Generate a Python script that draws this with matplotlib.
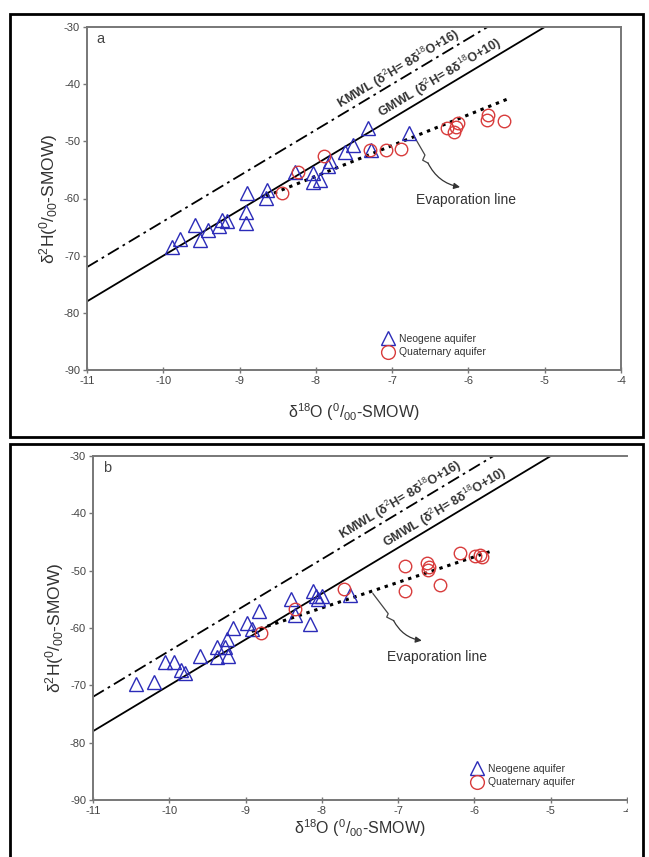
import numpy as np
import matplotlib
matplotlib.use("Agg")
import matplotlib.pyplot as plt
from matplotlib.patches import Rectangle

plt.rcParams['font.family'] = ['Liberation Sans', 'DejaVu Sans']
plt.rcParams['mathtext.fontset'] = 'custom'
plt.rcParams['mathtext.rm'] = 'Liberation Sans'
plt.rcParams['mathtext.it'] = 'Liberation Sans'
plt.rcParams['mathtext.bf'] = 'Liberation Sans:bold'
plt.rcParams['axes.unicode_minus'] = False

# ---- panel a data ----
neo_a_x = [-9.88, -9.78, -9.59, -9.52, -9.41, -9.27, -9.23, -9.17, -8.90, -8.92, -8.92, -8.64,
           -8.65, -8.27, -8.04, -7.95, -8.04, -7.84, -7.82, -7.62, -7.51, -7.31, -7.28, -6.78]
neo_a_y = [-68.5, -67.1, -64.6, -67.2, -65.5, -64.8, -63.7, -63.9, -59.0, -62.3, -64.3, -58.5,
           -59.9, -55.3, -57.2, -56.7, -55.6, -54.4, -53.4, -51.8, -50.6, -47.7, -51.6, -48.6]
qua_a_x = [-8.44, -8.23, -7.89, -7.29, -7.08, -6.89, -6.28, -6.19, -6.16, -6.14, -5.76, -5.74, -5.54]
qua_a_y = [-59.0, -55.3, -52.6, -51.6, -51.5, -51.4, -47.7, -48.4, -47.5, -46.8, -46.2, -45.4, -46.4]
evap_a_x = [-8.65, -5.45]
evap_a_y = [-59.6, -42.4]

# ---- panel b data ----
neo_b_x = [-10.44, -10.20, -10.05, -9.94, -9.84, -9.79, -9.60, -9.38, -9.38, -9.27, -9.25, -9.23,
           -9.16, -8.98, -8.92, -8.82, -8.41, -8.35, -8.15, -8.11, -8.08, -8.05, -8.00, -7.63]
neo_b_y = [-69.8, -69.5, -66.0, -66.0, -67.4, -67.9, -64.9, -63.4, -65.0, -63.3, -62.0, -64.8,
           -60.0, -59.1, -60.1, -57.1, -55.0, -57.7, -59.3, -53.6, -54.5, -55.0, -54.5, -54.3]
qua_b_x = [-8.80, -8.35, -7.71, -6.91, -6.91, -6.62, -6.61, -6.60, -6.45, -6.19, -5.99, -5.93, -5.90]
qua_b_y = [-60.9, -56.7, -53.2, -49.1, -53.6, -48.7, -49.9, -49.4, -52.5, -47.0, -47.4, -47.3, -47.6]
evap_b_x = [-8.92, -5.78]
evap_b_y = [-60.6, -46.6]

# meteoric water lines (endpoints)
gmwl_x = [-11.0, -5.0]
gmwl_y = [-78.0, -30.0]
kmwl_x = [-11.0, -5.75]
kmwl_y = [-72.0, -30.0]

W, H = 649, 857
fig = plt.figure(figsize=(W / 100, H / 100), dpi=100)

def fig_rect(l, t, r, b):
    return [l / W, 1 - b / H, (r - l) / W, (b - t) / H]

ax_a = fig.add_axes(fig_rect(87, 27, 621, 370))
ax_b = fig.add_axes(fig_rect(93, 456, 627, 800))

txt_col = "#333333"
ax_col = "#777777"


def draw_panel(ax, letter, nx, ny, qx, qy, ex, ey, lab_k, lab_g, evap_txt, arrow_pts, arrow_tip,
               leg_anchor, xpad):
    ax.set_xlim(-11, -4)
    ax.set_ylim(-90, -30)
    ax.set_xticks(range(-11, -3))
    ax.set_yticks(range(-90, -29, 10))
    for s in ax.spines.values():
        s.set_color(ax_col)
        s.set_linewidth(1.4)
    ax.tick_params(axis='x', direction='inout', length=5, width=1.0, color=ax_col,
                   labelsize=8, labelcolor="#444444", pad=2)
    ax.tick_params(axis='y', direction='out', length=3, width=1.0, color=ax_col,
                   labelsize=8, labelcolor="#444444", pad=2)

    ax.plot(kmwl_x, kmwl_y, color='black', lw=1.3, ls=(0, (7, 2.5, 1.5, 2.5)), zorder=2)
    ax.plot(gmwl_x, gmwl_y, color='black', lw=1.3, zorder=2)
    ax.plot(ex, ey, color='black', lw=2.2, ls=(0, (1.1, 1.6)), zorder=2)

    ax.plot(nx, ny, ls='none', marker='^', ms=9.5, mfc='none', mec='#2b2bb8', mew=1.0,
            label='Neogene aquifer', zorder=3)
    ax.plot(qx, qy, ls='none', marker='o', ms=9, mfc='none', mec='#d83c3c', mew=1.0,
            label='Quaternary aquifer', zorder=3)

    # rotated line labels
    fig.canvas.draw()
    p0 = ax.transData.transform((-11, -78))
    p1 = ax.transData.transform((-5, -30))
    ang = np.degrees(np.arctan2(p1[1] - p0[1], p1[0] - p0[0]))
    kx = lab_k
    gx = lab_g
    ax.annotate(r'KMWL (δ$^2$H= 8δ$^{18}$O+16)', (kx, 8 * kx + 16),
                xytext=(-0.4, 0.4), textcoords='offset points', rotation=ang,
                rotation_mode='anchor', ha='center', va='bottom', fontsize=9,
                fontweight='bold', color=txt_col)
    ax.annotate(r'GMWL (δ$^2$H= 8δ$^{18}$O+10)', (gx, 8 * gx + 10),
                xytext=(-0.4, 0.4), textcoords='offset points', rotation=ang,
                rotation_mode='anchor', ha='center', va='bottom', fontsize=9,
                fontweight='bold', color=txt_col)

    # evaporation arrow (zigzag + curved arrow)
    zx, zy = zip(*arrow_pts)
    ax.plot(zx, zy, color='#444444', lw=0.9, zorder=2)
    ax.annotate('', xy=arrow_tip, xytext=arrow_pts[-1],
                arrowprops=dict(arrowstyle='-|>', color='#333333', lw=0.9,
                                mutation_scale=9, shrinkA=0, shrinkB=0,
                                connectionstyle='arc3,rad=0.25'))
    ax.text(evap_txt[0], evap_txt[1], 'Evaporation line', ha='center', va='center',
            fontsize=10, color=txt_col)

    ax.text(0.018, 0.985, letter, transform=ax.transAxes, ha='left', va='top',
            fontsize=10.5, color="#444444")

    ax.set_xlabel(r'δ$^{18}$O ($^0$/$_{00}$-SMOW)', fontsize=11.5, color=txt_col, labelpad=xpad)
    ax.set_ylabel(r'δ$^2$H($^0$/$_{00}$-SMOW)', fontsize=12.5, color=txt_col, labelpad=3)

    ax.legend(loc='lower left', bbox_to_anchor=leg_anchor, frameon=False, fontsize=7.5,
              handletextpad=0.4, labelspacing=0.35, borderaxespad=0, labelcolor=txt_col,
              handlelength=1.2, markerscale=1.1)


draw_panel(ax_a, 'a', neo_a_x, neo_a_y, qua_a_x, qua_a_y, evap_a_x, evap_a_y,
           -6.85, -6.3, (-6.03, -60.2),
           [(-6.70, -49.4), (-6.57, -52.4), (-6.60, -53.3), (-6.53, -53.8)], (-6.11, -58.0),
           (0.545, 0.025), 11)
draw_panel(ax_b, 'b', neo_b_x, neo_b_y, qua_b_x, qua_b_y, evap_b_x, evap_b_y,
           -6.9, -6.32, (-6.49, -65.0),
           [(-7.33, -54.0), (-7.13, -57.5), (-7.15, -58.1), (-7.06, -58.7)], (-6.69, -62.2),
           (0.70, 0.025), 1)
ax_b.spines['right'].set_visible(False)

# white mask hiding the cropped right edge of panel b
fig.patches.append(Rectangle((628 / W, 0), 13 / W, 420 / H, transform=fig.transFigure,
                             facecolor='white', edgecolor='none', zorder=5))

# panel frames
fig.patches.append(Rectangle((10 / W, 1 - 437 / H), 633 / W, 423 / H, transform=fig.transFigure,
                             fill=False, edgecolor='black', lw=2.0, zorder=6))
fig.patches.append(Rectangle((10 / W, -0.01), 633 / W, 1 - 444 / H + 0.01, transform=fig.transFigure,
                             fill=False, edgecolor='black', lw=2.0, zorder=6))

fig.savefig('out.png', dpi=100)
